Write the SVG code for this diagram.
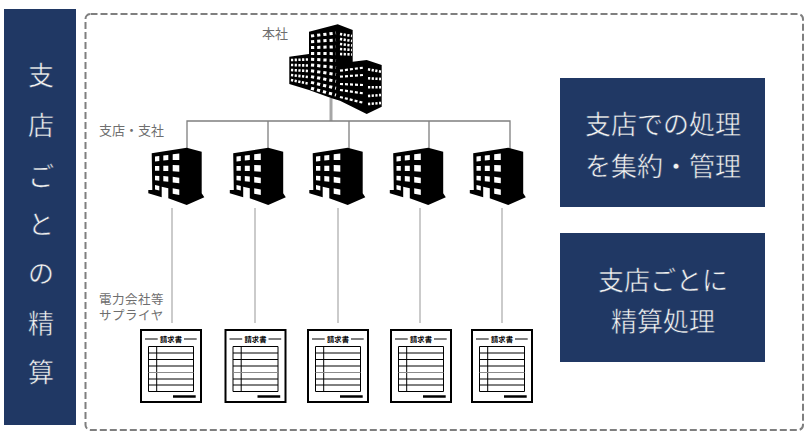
<svg xmlns="http://www.w3.org/2000/svg" width="808" height="433" viewBox="0 0 808 433">
<style>
text{font-family:"Noto Sans CJK JP","Noto Sans",sans-serif}
.w{fill:#f2f2f2;text-anchor:middle;font-size:26px;stroke:#203864;stroke-width:.45px}
.g{fill:#6e6e6e;font-size:13px}
.g2{fill:#6e6e6e;font-size:12.500px;letter-spacing:.5px}
.navy{fill:#203864}
.l{stroke:#7f7f7f;stroke-width:1.3;fill:none}
.s{stroke:#bfbfbf;stroke-width:1.6;fill:none}
.hf{stroke:#fff;stroke-width:3;fill:none;stroke-dasharray:3.2 3}
.hl{stroke:#fff;stroke-width:2.6;fill:none;stroke-dasharray:2.200 1.500}
.hr{stroke:#fff;stroke-width:2.200;fill:none;stroke-dasharray:3 2}
</style>
<defs>
<g id="branch">
<path d="M-1.300 5.300L33.700-.3L48.700 3.700V45.300L51.300 49.300L33.700 57L15.300 50.300V40.300L8.700 38.700V49.300L-4.700 45.300V42H-.7Z" fill="#000"/>
<path fill="#fff" d="M2 8.500L6.300 8V13L2 13.500ZM10.300 7.500L15.300 7V12L10.300 12.500ZM19.700 6.300L26.300 5.500V12H19.700ZM2 18H6.300V22.700H2ZM10.300 17.700H15.300V23H10.300ZM19.700 17L26.300 17.300V23.700L19.700 23.300ZM2 27.700L6.300 28V32.700L2 32.300ZM10.300 28L15.300 28.500V33.700L10.300 33.200ZM19.700 28.700L26.300 29.700V35.300L19.700 34.500ZM2 37L6.300 38V42.500L2 41.500ZM19.700 40.300L26.300 41.500V47L19.700 45.800Z"/>
</g>
<g id="doc">
<rect x="1" y="1" width="60" height="72" fill="#fff" stroke="#000" stroke-width="2"/>
<path d="M5 10H17.700M44 10H56.700" stroke="#000" stroke-width="1.200"/>
<text x="31" y="13" font-size="7.300" text-anchor="middle" font-weight="700" fill="#000">請求書</text>
<path d="M8.500 17.500H53.500V62.500H8.500ZM16.700 17.500V62.500M8.500 24H53.500M8.500 30.500H53.500M8.500 50H53.500M8.500 56H53.500M8.500 37H53.500" fill="none" stroke="#000" stroke-width="1"/>
<path d="M8.500 43.500H53.500" stroke="#8c8c8c" stroke-width="1.200"/>
<path d="M33 67.500H55.700" stroke="#000" stroke-width="2.500"/>
</g>
</defs>
<rect width="808" height="433" fill="#fff"/>
<g id="frame"><rect x="85.500" y="14" width="717.500" height="416" rx="5" fill="none" stroke="#7f7f7f" stroke-width="2" stroke-dasharray="7 3"/></g>
<g id="connectors">
<path d="M331 98V121" stroke="#a6a6a6" stroke-width="3" fill="none"/>
<path class="l" d="M187 149V121H510V149M268 121V149M349 121V149M429 121V149"/>
<path class="s" d="M172 208V323M255 208V323M338 208V323M420 208V323M502 208V323"/>
</g>
<g id="title">
<rect class="navy" x="4" y="9" width="72" height="416"/>
<text class="w" x="41" y="85">支</text><text class="w" x="41" y="135">店</text><text class="w" x="41" y="186">ご</text><text class="w" x="41" y="234">と</text><text class="w" x="41" y="283">の</text><text class="w" x="41" y="333">精</text><text class="w" x="41" y="382">算</text>
</g>
<g id="hq">
<path d="M309 31.700L337.700 24.300L352.700 30V61.700L366.700 60L381.700 65V106.700L366.700 114L340 100.700L331.700 98.300L309 90L289.300 84V56.700L309 54Z" fill="#000"/>
<path class="hf" d="M311 36L336 33M311 41.800L336 39.900M311 47.600L336 46.800M311 53.400L336 53.700M311 59.200L336 60.600M311 65L336 67.500M311 70.800L336 74.400M311 76.600L336 81.300M311 82.400L336 88.200M311 88.200L336 95.100"/>
<path class="hl" d="M340 34L352 36M340 39L352 41M340 44L352 45.500M340 49L352 50M340 54L352 54.500"/>
<path class="hl" d="M291 60L308 59.500M291 65L308 65.500M291 70L308 71M291 75L308 77M291 80L308 83.500"/>
<path class="hr" d="M340 70.700L363 67.700M340 76.700L363 75M340 84L363 85M340 90L363 93.300M340 97L363 102.700"/>
<path class="hl" d="M368 69.300L381 71.700M368 78.300L381 79M368 87.300H381M368 96L381 95M368 104L381 103"/>
<text class="g" x="262" y="38">本社</text>
</g>
<g id="branch-label"><text class="g" x="99" y="134.500">支店・支社</text></g>
<g id="b1"><use href="#branch" x="153" y="148"/></g>
<g id="b2"><use href="#branch" x="234.500" y="148"/></g>
<g id="b3"><use href="#branch" x="314" y="148"/></g>
<g id="b4"><use href="#branch" x="394.500" y="148"/></g>
<g id="b5"><use href="#branch" x="474.500" y="148"/></g>
<g id="supplier-label"><text class="g2" x="99" y="303.500">電力会社等</text><text class="g2" x="99" y="319.500">サプライヤ</text></g>
<g id="d1"><use href="#doc" x="140" y="329"/></g>
<g id="d2"><use href="#doc" x="224.500" y="329"/></g>
<g id="d3"><use href="#doc" x="307" y="329"/></g>
<g id="d4"><use href="#doc" x="390" y="329"/></g>
<g id="d5"><use href="#doc" x="471" y="329"/></g>
<g id="box1"><rect class="navy" x="560" y="78" width="205" height="129"/>
<text class="w" x="663" y="134">支店での処理</text><text class="w" x="663" y="175.500">を集約・管理</text></g>
<g id="box2"><rect class="navy" x="560" y="233" width="205" height="129"/>
<text class="w" x="663" y="290">支店ごとに</text><text class="w" x="663" y="331">精算処理</text></g>
</svg>
